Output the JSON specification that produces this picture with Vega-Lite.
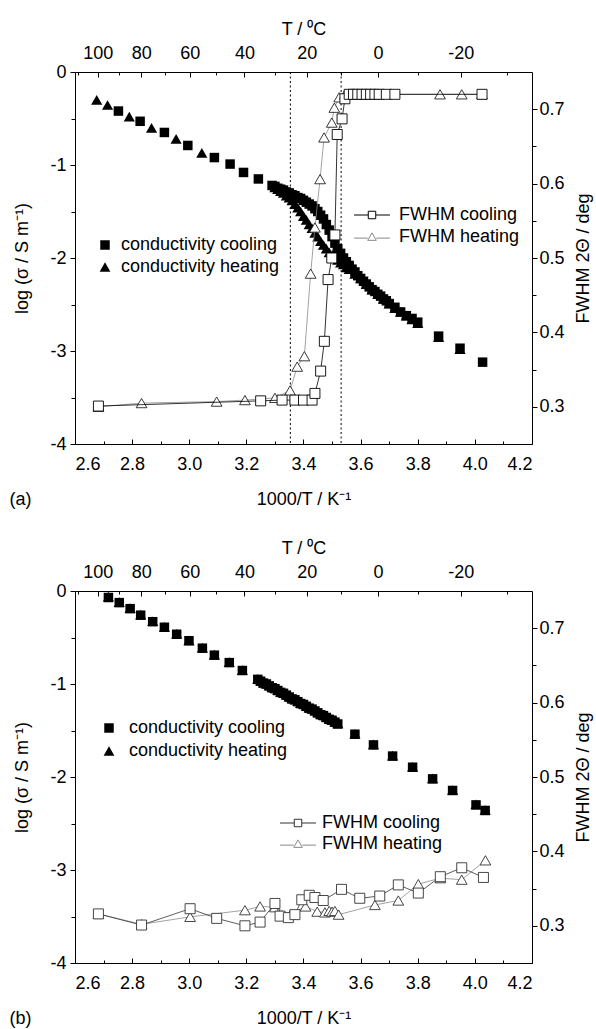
{
"$schema": "https://vega.github.io/schema/vega-lite/v6.json",
"padding": {"left": 9, "top": 20, "right": 4, "bottom": 4},
"config": {
  "view": {"stroke": null},
  "font": "Liberation Sans",
  "axis": {"labelFont": "Liberation Sans", "labelFontSize": 18, "titleFont": "Liberation Sans", "titleFontSize": 18, "titleFontWeight": "normal", "domainColor": "black", "tickColor": "black", "labelColor": "black", "titleColor": "black", "grid": false, "domainWidth": 1, "tickWidth": 1},
  "legend": {"labelFont": "Liberation Sans", "labelFontSize": 18, "labelColor": "black", "orient": "none", "title": null, "padding": 0}
},
"datasets": {
  "vlines": [{"x": 3.3540}, {"x": 3.5317}],
  "ca_cool": [{"x":2.752,"y":-0.42},{"x":2.828,"y":-0.53},{"x":2.913,"y":-0.65},{"x":2.995,"y":-0.79},{"x":3.088,"y":-0.92},{"x":3.143,"y":-0.99},{"x":3.19,"y":-1.08},{"x":3.242,"y":-1.15},{"x":3.29,"y":-1.22},{"x":3.30,"y":-1.23},{"x":3.31,"y":-1.25},{"x":3.32,"y":-1.26},{"x":3.33,"y":-1.27},{"x":3.34,"y":-1.29},{"x":3.35,"y":-1.30},{"x":3.36,"y":-1.32},{"x":3.37,"y":-1.33},{"x":3.38,"y":-1.35},{"x":3.39,"y":-1.36},{"x":3.40,"y":-1.38},{"x":3.41,"y":-1.40},{"x":3.42,"y":-1.42},{"x":3.43,"y":-1.44},{"x":3.44,"y":-1.47},{"x":3.45,"y":-1.50},{"x":3.46,"y":-1.54},{"x":3.47,"y":-1.58},{"x":3.48,"y":-1.64},{"x":3.49,"y":-1.70},{"x":3.50,"y":-1.77},{"x":3.51,"y":-1.84},{"x":3.52,"y":-1.90},{"x":3.53,"y":-1.95},{"x":3.54,"y":-2.00},{"x":3.55,"y":-2.04},{"x":3.56,"y":-2.08},{"x":3.57,"y":-2.12},{"x":3.58,"y":-2.15},{"x":3.59,"y":-2.19},{"x":3.60,"y":-2.22},{"x":3.61,"y":-2.25},{"x":3.62,"y":-2.28},{"x":3.63,"y":-2.31},{"x":3.64,"y":-2.34},{"x":3.65,"y":-2.36},{"x":3.66,"y":-2.39},{"x":3.67,"y":-2.41},{"x":3.68,"y":-2.44},{"x":3.69,"y":-2.46},{"x":3.70,"y":-2.49},{"x":3.72,"y":-2.53},{"x":3.74,"y":-2.58},{"x":3.76,"y":-2.62},{"x":3.78,"y":-2.65},{"x":3.80,"y":-2.69},{"x":3.873,"y":-2.84},{"x":3.948,"y":-2.97},{"x":4.027,"y":-3.12}],
  "ca_heat": [{"x":2.676,"y":-0.30},{"x":2.714,"y":-0.355},{"x":2.79,"y":-0.48},{"x":2.868,"y":-0.60},{"x":2.954,"y":-0.72},{"x":3.044,"y":-0.87},{"x":3.30,"y":-1.24},{"x":3.31,"y":-1.26},{"x":3.32,"y":-1.28},{"x":3.33,"y":-1.30},{"x":3.34,"y":-1.33},{"x":3.35,"y":-1.35},{"x":3.36,"y":-1.38},{"x":3.37,"y":-1.42},{"x":3.38,"y":-1.46},{"x":3.39,"y":-1.50},{"x":3.40,"y":-1.55},{"x":3.41,"y":-1.59},{"x":3.42,"y":-1.64},{"x":3.43,"y":-1.68},{"x":3.44,"y":-1.73},{"x":3.45,"y":-1.77},{"x":3.46,"y":-1.82},{"x":3.47,"y":-1.86},{"x":3.48,"y":-1.90},{"x":3.49,"y":-1.94},{"x":3.50,"y":-1.97},{"x":3.51,"y":-2.00},{"x":3.52,"y":-2.02},{"x":3.53,"y":-2.05},{"x":3.54,"y":-2.07},{"x":3.55,"y":-2.10},{"x":3.56,"y":-2.12},{"x":3.58,"y":-2.17},{"x":3.60,"y":-2.22},{"x":3.62,"y":-2.28},{"x":3.64,"y":-2.34},{"x":3.66,"y":-2.39},{"x":3.68,"y":-2.44},{"x":3.70,"y":-2.49},{"x":3.72,"y":-2.54},{"x":3.74,"y":-2.58},{"x":3.76,"y":-2.62},{"x":3.78,"y":-2.66},{"x":3.80,"y":-2.70},{"x":3.873,"y":-2.85},{"x":3.948,"y":-2.98}],
  "fa_cool": [{"x":2.682,"y":0.301},{"x":3.250,"y":0.308},{"x":3.325,"y":0.309},{"x":3.370,"y":0.309},{"x":3.400,"y":0.309},{"x":3.430,"y":0.309},{"x":3.440,"y":0.318},{"x":3.460,"y":0.348},{"x":3.473,"y":0.388},{"x":3.486,"y":0.471},{"x":3.499,"y":0.500},{"x":3.510,"y":0.531},{"x":3.518,"y":0.666},{"x":3.535,"y":0.687},{"x":3.545,"y":0.714},{"x":3.560,"y":0.720},{"x":3.575,"y":0.720},{"x":3.590,"y":0.720},{"x":3.605,"y":0.720},{"x":3.620,"y":0.720},{"x":3.635,"y":0.720},{"x":3.650,"y":0.720},{"x":3.665,"y":0.720},{"x":3.690,"y":0.720},{"x":3.720,"y":0.720},{"x":4.025,"y":0.720}],
  "fa_heat": [{"x":2.682,"y":0.300},{"x":2.833,"y":0.305},{"x":3.096,"y":0.307},{"x":3.195,"y":0.309},{"x":3.300,"y":0.312},{"x":3.353,"y":0.322},{"x":3.378,"y":0.354},{"x":3.403,"y":0.368},{"x":3.425,"y":0.479},{"x":3.440,"y":0.541},{"x":3.458,"y":0.606},{"x":3.472,"y":0.662},{"x":3.499,"y":0.682},{"x":3.508,"y":0.702},{"x":3.525,"y":0.716},{"x":3.545,"y":0.720},{"x":3.560,"y":0.720},{"x":3.575,"y":0.720},{"x":3.590,"y":0.720},{"x":3.605,"y":0.720},{"x":3.620,"y":0.720},{"x":3.635,"y":0.720},{"x":3.650,"y":0.720},{"x":3.878,"y":0.720},{"x":3.954,"y":0.720},{"x":4.025,"y":0.720}],
  "cb_cool": [{"x":2.717,"y":-0.07},{"x":2.755,"y":-0.125},{"x":2.793,"y":-0.19},{"x":2.83,"y":-0.26},{"x":2.872,"y":-0.33},{"x":2.913,"y":-0.39},{"x":2.956,"y":-0.465},{"x":2.999,"y":-0.535},{"x":3.046,"y":-0.615},{"x":3.088,"y":-0.69},{"x":3.14,"y":-0.77},{"x":3.186,"y":-0.855},{"x":3.24,"y":-0.95},{"x":3.25,"y":-0.97},{"x":3.26,"y":-0.99},{"x":3.27,"y":-1.00},{"x":3.28,"y":-1.02},{"x":3.29,"y":-1.04},{"x":3.30,"y":-1.05},{"x":3.31,"y":-1.07},{"x":3.32,"y":-1.09},{"x":3.33,"y":-1.10},{"x":3.34,"y":-1.12},{"x":3.35,"y":-1.14},{"x":3.36,"y":-1.16},{"x":3.37,"y":-1.17},{"x":3.38,"y":-1.19},{"x":3.39,"y":-1.21},{"x":3.40,"y":-1.22},{"x":3.41,"y":-1.24},{"x":3.42,"y":-1.26},{"x":3.43,"y":-1.27},{"x":3.44,"y":-1.29},{"x":3.45,"y":-1.31},{"x":3.46,"y":-1.33},{"x":3.47,"y":-1.34},{"x":3.48,"y":-1.36},{"x":3.49,"y":-1.38},{"x":3.50,"y":-1.39},{"x":3.51,"y":-1.41},{"x":3.52,"y":-1.43},{"x":3.58,"y":-1.54},{"x":3.645,"y":-1.655},{"x":3.712,"y":-1.775},{"x":3.782,"y":-1.895},{"x":3.852,"y":-2.02},{"x":3.922,"y":-2.145},{"x":4.004,"y":-2.30},{"x":4.036,"y":-2.36}],
  "cb_heat": [{"x":2.717,"y":-0.06},{"x":2.755,"y":-0.12},{"x":2.793,"y":-0.185},{"x":2.83,"y":-0.255},{"x":2.872,"y":-0.325},{"x":2.913,"y":-0.385},{"x":2.956,"y":-0.46},{"x":2.999,"y":-0.53},{"x":3.046,"y":-0.61},{"x":3.088,"y":-0.685},{"x":3.14,"y":-0.765},{"x":3.186,"y":-0.85},{"x":3.24,"y":-0.945},{"x":3.25,"y":-0.965},{"x":3.26,"y":-0.985},{"x":3.27,"y":-0.995},{"x":3.28,"y":-1.015},{"x":3.29,"y":-1.035},{"x":3.30,"y":-1.045},{"x":3.31,"y":-1.065},{"x":3.32,"y":-1.085},{"x":3.33,"y":-1.095},{"x":3.34,"y":-1.115},{"x":3.35,"y":-1.135},{"x":3.36,"y":-1.155},{"x":3.37,"y":-1.165},{"x":3.38,"y":-1.185},{"x":3.39,"y":-1.205},{"x":3.40,"y":-1.215},{"x":3.41,"y":-1.235},{"x":3.42,"y":-1.255},{"x":3.43,"y":-1.265},{"x":3.44,"y":-1.285},{"x":3.45,"y":-1.305},{"x":3.46,"y":-1.325},{"x":3.47,"y":-1.335},{"x":3.48,"y":-1.355},{"x":3.49,"y":-1.375},{"x":3.50,"y":-1.385},{"x":3.51,"y":-1.405},{"x":3.52,"y":-1.425},{"x":3.58,"y":-1.535},{"x":3.645,"y":-1.65},{"x":3.712,"y":-1.77},{"x":3.782,"y":-1.89},{"x":3.852,"y":-2.015},{"x":3.922,"y":-2.14},{"x":4.004,"y":-2.295},{"x":4.036,"y":-2.355}],
  "fb_cool": [{"x":2.682,"y":0.316},{"x":2.833,"y":0.301},{"x":3.003,"y":0.323},{"x":3.096,"y":0.310},{"x":3.195,"y":0.300},{"x":3.248,"y":0.305},{"x":3.300,"y":0.330},{"x":3.318,"y":0.313},{"x":3.347,"y":0.311},{"x":3.370,"y":0.315},{"x":3.394,"y":0.335},{"x":3.420,"y":0.341},{"x":3.440,"y":0.338},{"x":3.469,"y":0.334},{"x":3.533,"y":0.349},{"x":3.597,"y":0.337},{"x":3.667,"y":0.340},{"x":3.732,"y":0.355},{"x":3.802,"y":0.344},{"x":3.879,"y":0.366},{"x":3.954,"y":0.378},{"x":4.030,"y":0.365}],
  "fb_heat": [{"x":2.682,"y":0.316},{"x":2.833,"y":0.302},{"x":3.003,"y":0.312},{"x":3.195,"y":0.321},{"x":3.248,"y":0.326},{"x":3.300,"y":0.325},{"x":3.354,"y":0.315},{"x":3.407,"y":0.326},{"x":3.448,"y":0.319},{"x":3.475,"y":0.318},{"x":3.490,"y":0.320},{"x":3.500,"y":0.319},{"x":3.510,"y":0.320},{"x":3.523,"y":0.315},{"x":3.650,"y":0.328},{"x":3.732,"y":0.334},{"x":3.802,"y":0.356},{"x":3.879,"y":0.364},{"x":3.954,"y":0.362},{"x":4.037,"y":0.388}]
},
"spacing": 147,
"bounds": "flush",
"resolve": {"scale": {"shape": "independent", "color": "independent"}},
"vconcat": [
{
  "width": 457, "height": 372,
  "resolve": {"scale": {"y": "independent", "shape": "independent", "color": "independent"}, "axis": {"x": "independent", "y": "independent"}},
  "layer": [
    {"data": {"name": "vlines"}, "mark": {"type": "rule", "strokeDash": [2, 2.5], "color": "black", "strokeWidth": 1},
     "encoding": {"x": {"field": "x", "type": "quantitative", "scale": {"domain": [2.6, 4.2], "nice": false, "zero": false}, "axis": null}}},
    {"data": {"name": "ca_heat"}, "mark": {"type": "point", "filled": true, "color": "black", "opacity": 1, "size": 125},
     "encoding": {
       "x": {"field": "x", "type": "quantitative", "scale": {"domain": [2.6, 4.2], "nice": false, "zero": false},
             "axis": {"orient": "bottom", "values": [2.7, 2.9, 3.1, 3.3, 3.5, 3.7, 3.9, 4.1], "labels": false, "domain": false, "tickSize": -3, "title": "(a)", "titleX": -66, "titleY": 55, "titleAlign": "left", "titleBaseline": "middle"}},
       "y": {"field": "y", "type": "quantitative", "scale": {"domain": [-4, 0], "nice": false, "zero": false},
             "axis": {"orient": "left", "values": [-3.5, -2.5, -1.5, -0.5], "labels": false, "domain": false, "tickSize": 4, "title": null}},
       "shape": {"datum": "conductivity heating", "type": "nominal", "scale": {"range": ["triangle-up"]},
                 "legend": {"legendX": 21, "legendY": 186, "symbolSize": 115, "labelOffset": 7, "symbolFillColor": "black", "symbolStrokeColor": "black"}}
     }},
    {"data": {"name": "ca_cool"}, "mark": {"type": "point", "filled": true, "color": "black", "opacity": 1, "size": 90},
     "encoding": {
       "x": {"field": "x", "type": "quantitative", "scale": {"domain": [2.6, 4.2], "nice": false, "zero": false},
             "axis": {"orient": "bottom", "values": [2.6, 2.8, 3.0, 3.2, 3.4, 3.6, 3.8, 4.0, 4.2], "format": ".1f", "tickSize": -5, "labelPadding": 25, "labelBaseline": "middle", "title": "1000/T / K⁻¹", "titleY": 55, "titleBaseline": "middle"}},
       "y": {"field": "y", "type": "quantitative", "scale": {"domain": [-4, 0], "nice": false, "zero": false},
             "axis": {"orient": "left", "values": [-4, -3, -2, -1, 0], "labelExpr": "toString(datum.value)", "tickSize": 5, "labelPadding": 4, "title": "log (σ / S m⁻¹)", "titleX": -53, "titleY": 186, "titleAlign": "center", "titleBaseline": "middle"}},
       "shape": {"datum": "conductivity cooling", "type": "nominal", "scale": {"range": ["square"]},
                 "legend": {"legendX": 21, "legendY": 164, "symbolSize": 90, "labelOffset": 7, "symbolFillColor": "black", "symbolStrokeColor": "black"}}
     }},
    {"data": {"name": "fa_heat"}, "mark": {"type": "line", "strokeWidth": 0.8},
     "encoding": {
       "x": {"field": "x", "type": "quantitative", "scale": {"domain": [2.6, 4.2], "nice": false, "zero": false},
             "axis": {"orient": "top", "values": [2.60994, 2.75368, 2.91418, 3.09454, 3.29870, 3.53170, 3.80011, 4.11269], "labels": false, "domain": false, "tickSize": -3, "title": null}},
       "y": {"field": "y", "type": "quantitative", "scale": {"domain": [0.25, 0.75], "nice": false, "zero": false},
             "axis": {"orient": "right", "values": [0.35, 0.45, 0.55, 0.65], "labels": false, "domain": false, "tickSize": 4, "title": null}},
       "color": {"datum": "FWHM heating", "type": "nominal", "scale": {"range": ["#8a8a8a"]},
                 "legend": {"legendX": 288, "legendY": 156, "symbolType": "M-4.8,0.3H-1.15M1.15,0.3H4.8M0,-1.1L1.15,0.9H-1.15Z", "symbolSize": 56, "symbolStrokeWidth": 1, "labelOffset": 18}}
     }},
    {"data": {"name": "fa_heat"}, "mark": {"type": "point", "shape": "triangle-up", "filled": true, "fill": "white", "stroke": "#222222", "strokeWidth": 0.9, "opacity": 1, "size": 115},
     "encoding": {
       "x": {"field": "x", "type": "quantitative", "scale": {"domain": [2.6, 4.2], "nice": false, "zero": false}, "axis": null},
       "y": {"field": "y", "type": "quantitative", "scale": {"domain": [0.25, 0.75], "nice": false, "zero": false}, "axis": null}
     }},
    {"data": {"name": "fa_cool"}, "mark": {"type": "line", "strokeWidth": 0.8},
     "encoding": {
       "x": {"field": "x", "type": "quantitative", "scale": {"domain": [2.6, 4.2], "nice": false, "zero": false},
             "axis": {"orient": "top", "values": [2.67989, 2.83166, 3.00165, 3.19336, 3.41122, 3.66099, 3.95023], "labelExpr": "toString(round(1000/datum.value - 273.15))", "tickSize": -5, "labelPadding": 24, "labelBaseline": "middle", "title": "T / ⁰C", "titleY": -43, "titleBaseline": "middle"}},
       "y": {"field": "y", "type": "quantitative", "scale": {"domain": [0.25, 0.75], "nice": false, "zero": false},
             "axis": {"orient": "right", "values": [0.3, 0.4, 0.5, 0.6, 0.7], "format": ".1f", "tickSize": 5, "labelPadding": 2, "title": "FWHM 2Θ / deg", "titleAngle": 270, "titleX": 51, "titleY": 186, "titleAlign": "center", "titleBaseline": "middle"}},
       "color": {"datum": "FWHM cooling", "type": "nominal", "scale": {"range": ["black"]},
                 "legend": {"legendX": 288, "legendY": 134, "symbolType": "M-4.8,0H-1M1,0H4.8M-1,-1H1V1H-1Z", "symbolSize": 56, "symbolStrokeWidth": 1, "labelOffset": 18}}
     }},
    {"data": {"name": "fa_cool"}, "mark": {"type": "point", "shape": "square", "filled": true, "fill": "white", "stroke": "black", "strokeWidth": 0.9, "opacity": 1, "size": 100},
     "encoding": {
       "x": {"field": "x", "type": "quantitative", "scale": {"domain": [2.6, 4.2], "nice": false, "zero": false}, "axis": null},
       "y": {"field": "y", "type": "quantitative", "scale": {"domain": [0.25, 0.75], "nice": false, "zero": false}, "axis": null}
     }}
  ]
},
{
  "width": 457, "height": 372,
  "resolve": {"scale": {"y": "independent", "shape": "independent", "color": "independent"}, "axis": {"x": "independent", "y": "independent"}},
  "layer": [
    {"data": {"name": "cb_heat"}, "mark": {"type": "point", "filled": true, "color": "black", "opacity": 1, "size": 125},
     "encoding": {
       "x": {"field": "x", "type": "quantitative", "scale": {"domain": [2.6, 4.2], "nice": false, "zero": false},
             "axis": {"orient": "bottom", "values": [2.7, 2.9, 3.1, 3.3, 3.5, 3.7, 3.9, 4.1], "labels": false, "domain": false, "tickSize": -3, "title": "(b)", "titleX": -66, "titleY": 55, "titleAlign": "left", "titleBaseline": "middle"}},
       "y": {"field": "y", "type": "quantitative", "scale": {"domain": [-4, 0], "nice": false, "zero": false},
             "axis": {"orient": "left", "values": [-3.5, -2.5, -1.5, -0.5], "labels": false, "domain": false, "tickSize": 4, "title": null}},
       "shape": {"datum": "conductivity heating", "type": "nominal", "scale": {"range": ["triangle-up"]},
                 "legend": {"legendX": 25, "legendY": 151, "symbolSize": 115, "labelOffset": 11, "symbolFillColor": "black", "symbolStrokeColor": "black"}}
     }},
    {"data": {"name": "cb_cool"}, "mark": {"type": "point", "filled": true, "color": "black", "opacity": 1, "size": 90},
     "encoding": {
       "x": {"field": "x", "type": "quantitative", "scale": {"domain": [2.6, 4.2], "nice": false, "zero": false},
             "axis": {"orient": "bottom", "values": [2.6, 2.8, 3.0, 3.2, 3.4, 3.6, 3.8, 4.0, 4.2], "format": ".1f", "tickSize": -5, "labelPadding": 25, "labelBaseline": "middle", "title": "1000/T / K⁻¹", "titleY": 55, "titleBaseline": "middle"}},
       "y": {"field": "y", "type": "quantitative", "scale": {"domain": [-4, 0], "nice": false, "zero": false},
             "axis": {"orient": "left", "values": [-4, -3, -2, -1, 0], "labelExpr": "toString(datum.value)", "tickSize": 5, "labelPadding": 4, "title": "log (σ / S m⁻¹)", "titleX": -53, "titleY": 186, "titleAlign": "center", "titleBaseline": "middle"}},
       "shape": {"datum": "conductivity cooling", "type": "nominal", "scale": {"range": ["square"]},
                 "legend": {"legendX": 25, "legendY": 128, "symbolSize": 90, "labelOffset": 11, "symbolFillColor": "black", "symbolStrokeColor": "black"}}
     }},
    {"data": {"name": "fb_heat"}, "mark": {"type": "line", "strokeWidth": 0.8},
     "encoding": {
       "x": {"field": "x", "type": "quantitative", "scale": {"domain": [2.6, 4.2], "nice": false, "zero": false},
             "axis": {"orient": "top", "values": [2.60994, 2.75368, 2.91418, 3.09454, 3.29870, 3.53170, 3.80011, 4.11269], "labels": false, "domain": false, "tickSize": -3, "title": null}},
       "y": {"field": "y", "type": "quantitative", "scale": {"domain": [0.25, 0.75], "nice": false, "zero": false},
             "axis": {"orient": "right", "values": [0.35, 0.45, 0.55, 0.65], "labels": false, "domain": false, "tickSize": 4, "title": null}},
       "color": {"datum": "FWHM heating", "type": "nominal", "scale": {"range": ["#8a8a8a"]},
                 "legend": {"legendX": 214, "legendY": 244, "symbolType": "M-4.8,0.3H-1.15M1.15,0.3H4.8M0,-1.1L1.15,0.9H-1.15Z", "symbolSize": 56, "symbolStrokeWidth": 1, "labelOffset": 15}}
     }},
    {"data": {"name": "fb_heat"}, "mark": {"type": "point", "shape": "triangle-up", "filled": true, "fill": "white", "stroke": "#333333", "strokeWidth": 0.9, "opacity": 1, "size": 115},
     "encoding": {
       "x": {"field": "x", "type": "quantitative", "scale": {"domain": [2.6, 4.2], "nice": false, "zero": false}, "axis": null},
       "y": {"field": "y", "type": "quantitative", "scale": {"domain": [0.25, 0.75], "nice": false, "zero": false}, "axis": null}
     }},
    {"data": {"name": "fb_cool"}, "mark": {"type": "line", "strokeWidth": 0.8},
     "encoding": {
       "x": {"field": "x", "type": "quantitative", "scale": {"domain": [2.6, 4.2], "nice": false, "zero": false},
             "axis": {"orient": "top", "values": [2.67989, 2.83166, 3.00165, 3.19336, 3.41122, 3.66099, 3.95023], "labelExpr": "toString(round(1000/datum.value - 273.15))", "tickSize": -5, "labelPadding": 24, "labelBaseline": "middle", "title": "T / ⁰C", "titleY": -43, "titleBaseline": "middle"}},
       "y": {"field": "y", "type": "quantitative", "scale": {"domain": [0.25, 0.75], "nice": false, "zero": false},
             "axis": {"orient": "right", "values": [0.3, 0.4, 0.5, 0.6, 0.7], "format": ".1f", "tickSize": 5, "labelPadding": 2, "title": "FWHM 2Θ / deg", "titleAngle": 270, "titleX": 51, "titleY": 186, "titleAlign": "center", "titleBaseline": "middle"}},
       "color": {"datum": "FWHM cooling", "type": "nominal", "scale": {"range": ["#333333"]},
                 "legend": {"legendX": 214, "legendY": 223, "symbolType": "M-4.8,0H-1M1,0H4.8M-1,-1H1V1H-1Z", "symbolSize": 56, "symbolStrokeWidth": 1, "labelOffset": 15}}
     }},
    {"data": {"name": "fb_cool"}, "mark": {"type": "point", "shape": "square", "filled": true, "fill": "white", "stroke": "#333333", "strokeWidth": 0.9, "opacity": 1, "size": 100},
     "encoding": {
       "x": {"field": "x", "type": "quantitative", "scale": {"domain": [2.6, 4.2], "nice": false, "zero": false}, "axis": null},
       "y": {"field": "y", "type": "quantitative", "scale": {"domain": [0.25, 0.75], "nice": false, "zero": false}, "axis": null}
     }}
  ]
}
]
}
